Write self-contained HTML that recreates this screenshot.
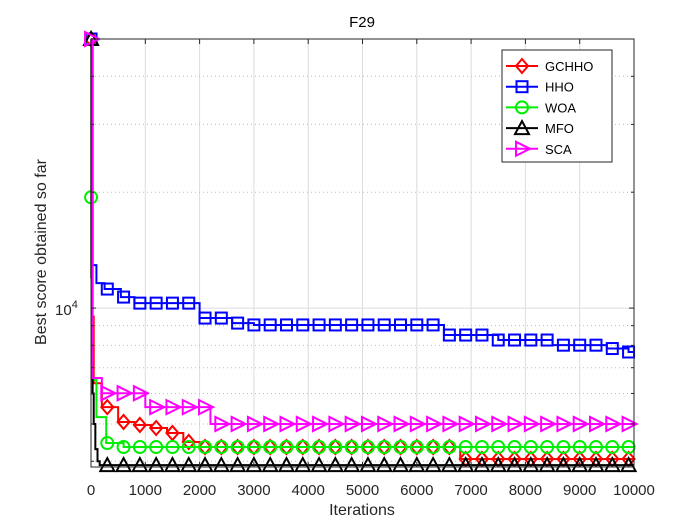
<!DOCTYPE html>
<html><head><meta charset="utf-8"><style>
body{margin:0;background:#fff;}
svg{display:block;font-family:"Liberation Sans",Arial,sans-serif;}
</style></head><body>
<svg id="chart" width="700" height="525" viewBox="0 0 700 525" xmlns="http://www.w3.org/2000/svg">
<rect width="700" height="525" fill="#fff"/>
<g id="grid"></g>
<g id="series"></g>
<g id="axes"></g>
<g id="legend"></g>
</svg>
<script>
const xTicks=[0,1000,2000,3000,4000,5000,6000,7000,8000,9000,10000];
const yMinorTicks=[4000,5000,6000,7000,8000,9000,20000,30000,40000];
const seriesNames=["GCHHO","HHO","WOA","MFO","SCA"];
const gchhoIters=[1,15,50,200,500,800,1100,1400,1700,2000,6800];
const gchhoVals=[50000,9500,6380,5530,5060,4970,4880,4735,4490,4355,4055];
const hhoIters=[1,30,100,250,550,800,2000,2600,3000,6500,7500,8500,9500,9900];
const hhoVals=[50000,12930,11610,11205,10680,10300,9420,9140,9040,8510,8260,8010,7850,7690];
const woaIters=[1,30,100,280,600];
const woaVals=[19400,6500,5210,4460,4355];
const mfoIters=[1,5,15,30,50,80,120,160];
const mfoVals=[50000,12000,8000,6000,5000,4300,4000,3910];
const scaIters=[1,30,200,1000,2200];
const scaVals=[50000,6580,6010,5530,5000];

const NS="http://www.w3.org/2000/svg";
const L=91,R=634,T=39,B=467;
const yMax=50000,yMin=3865;
const xs=v=>L+(v/10000)*(R-L);
const ys=v=>T+(Math.log10(yMax)-Math.log10(v))/(Math.log10(yMax)-Math.log10(yMin))*(B-T);
function mk(tag,attrs,parent){const e=document.createElementNS(NS,tag);for(const k in attrs)e.setAttribute(k,attrs[k]);parent.appendChild(e);return e;}
const grid=document.getElementById('grid'),axes=document.getElementById('axes'),ser=document.getElementById('series'),leg=document.getElementById('legend');

xTicks.forEach(t=>{
 const x=xs(t);
 const g=mk('line',{x1:x,x2:x,y1:T,y2:B,stroke:'#dcdcdc','stroke-width':1},grid);
 
 mk('line',{x1:x,x2:x,y1:B,y2:B-5,stroke:'#262626'},axes);
 mk('line',{x1:x,x2:x,y1:T,y2:T+5,stroke:'#262626'},axes);
 const tx=mk('text',{x:x,y:495,'text-anchor':'middle','font-size':15,fill:'#262626'},axes);
 tx.textContent=t;
 
});
yMinorTicks.forEach(t=>{
 const y=ys(t);
 const g=mk('line',{x1:L,x2:R,y1:y,y2:y,stroke:'#bdbdbd','stroke-width':1,'stroke-dasharray':'1,3'},grid);
 
 mk('line',{x1:L,x2:L+3,y1:y,y2:y,stroke:'#262626'},axes);
 mk('line',{x1:R,x2:R-3,y1:y,y2:y,stroke:'#262626'},axes);
});
{
 const y=ys(10000);
 const g=mk('line',{x1:L,x2:R,y1:y,y2:y,stroke:'#dcdcdc'},grid);
 
 mk('line',{x1:L,x2:L+5,y1:y,y2:y,stroke:'#262626'},axes);
 mk('line',{x1:R,x2:R-5,y1:y,y2:y,stroke:'#262626'},axes);
 const tx=mk('text',{x:55,y:y+7,'font-size':15,fill:'#262626'},axes);
 tx.innerHTML='10<tspan dy="-7" font-size="11">4</tspan>';
 
}
const box=mk('rect',{x:L,y:T,width:R-L,height:B-T,fill:'none',stroke:'#262626','stroke-width':1},axes);

const title=mk('text',{x:362,y:27,'text-anchor':'middle','font-size':15,fill:'#000'},axes);
title.textContent='F29';

const xl=mk('text',{x:362,y:515,'text-anchor':'middle','font-size':16,fill:'#262626'},axes);
xl.textContent='Iterations';

const yl=mk('text',{x:0,y:0,'text-anchor':'middle','font-size':16,fill:'#262626',transform:'translate(46,252) rotate(-90)'},axes);
yl.textContent='Best score obtained so far';


function marker(type,x,y,color,parent){
 const a={fill:'none',stroke:color,'stroke-width':2};
 if(type==='d')return mk('polygon',Object.assign({points:`${x},${y-7} ${x+6},${y} ${x},${y+7} ${x-6},${y}`},a),parent);
 if(type==='s')return mk('rect',Object.assign({x:x-5.5,y:y-5.5,width:11,height:11},a),parent);
 if(type==='o')return mk('circle',Object.assign({cx:x,cy:y,r:6},a),parent);
 if(type==='^')return mk('polygon',Object.assign({points:`${x},${y-7} ${x+7},${y+6} ${x-7},${y+6}`},a),parent);
 return mk('polygon',Object.assign({points:`${x-6},${y-7} ${x+8},${y} ${x-6},${y+7}`},a),parent);
}
function valAt(iters,vals,t){let v=vals[0];for(let k=0;k<iters.length;k++)if(iters[k]<=t)v=vals[k];return v;}
const defs=[
 {name:'gchho',iters:gchhoIters,vals:gchhoVals,color:'#ff0000',m:'d'},
 {name:'hho',iters:hhoIters,vals:hhoVals,color:'#0000ff',m:'s'},
 {name:'woa',iters:woaIters,vals:woaVals,color:'#00ee00',m:'o'},
 {name:'mfo',iters:mfoIters,vals:mfoVals,color:'#000000',m:'^'},
 {name:'sca',iters:scaIters,vals:scaVals,color:'#ff00ff',m:'>'}
];
defs.forEach(s=>{
 const g=mk('g',{},ser);
 
 let d=`M${xs(s.iters[0])},${ys(s.vals[0])}`;
 for(let k=1;k<s.iters.length;k++){d+=` L${xs(s.iters[k])},${ys(s.vals[k-1])} L${xs(s.iters[k])},${ys(s.vals[k])}`;}
 d+=` L${xs(10000)},${ys(s.vals[s.vals.length-1])}`;
 const p=mk('path',{d:d,fill:'none',stroke:s.color,'stroke-width':2},g);
 
 const mi=[1];for(let t=300;t<=10000;t+=300)mi.push(t);
 mi.forEach(t=>{
  const m=marker(s.m,xs(t),ys(valAt(s.iters,s.vals,t)),s.color,g);
  
 });
});
const lb=mk('rect',{x:502,y:50,width:110,height:112,fill:'#fff',stroke:'#262626'},leg);

defs.forEach((s,i)=>{
 const y=66+i*20.7;
 const g=mk('g',{},leg);
 
 mk('line',{x1:506,x2:538,y1:y,y2:y,stroke:s.color,'stroke-width':2},g);
 marker(s.m,522,y,s.color,g);
 const t=mk('text',{x:545,y:y+5,'font-size':13,fill:'#000'},g);
 t.textContent=seriesNames[i];
});
</script>
</body></html>
